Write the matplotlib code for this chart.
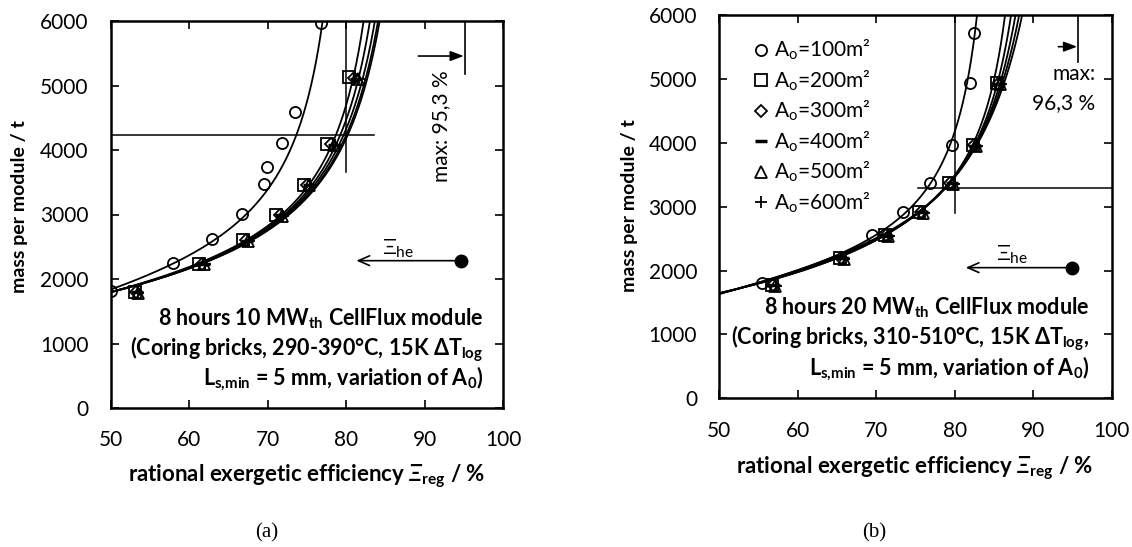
import numpy as np
import matplotlib
matplotlib.use("Agg")
import matplotlib.pyplot as plt

plt.rcParams['font.family'] = ['Lato', 'DejaVu Sans']
plt.rcParams['mathtext.fontset'] = 'custom'
plt.rcParams['mathtext.rm'] = 'Lato'
plt.rcParams['mathtext.it'] = 'Lato:italic'
plt.rcParams['mathtext.bf'] = 'Lato:bold'
plt.rcParams['mathtext.bfit'] = 'Lato:italic:bold'

# ================= panel (a): measured points =================
a_x100 = [50.0, 57.9, 62.9, 66.7, 69.5, 69.9, 71.8, 73.5, 76.8]
a_y100 = [1820, 2243, 2615, 3003, 3468, 3732, 4113, 4584, 5964]
a_x200 = [53.0, 61.2, 66.8, 71.1, 74.6, 77.6, 80.4]
a_y200 = [1800, 2240, 2605, 3000, 3465, 4100, 5125]
a_x300 = [53.2, 61.6, 67.2, 71.5, 75.0, 78.1, 81.0]
a_y300 = [1795, 2235, 2600, 2990, 3460, 4090, 5110]
a_x400 = [53.3, 61.8, 67.4, 71.7, 75.2, 78.4, 81.3]
a_y400 = [1795, 2230, 2595, 2985, 3455, 4085, 5105]
a_x500 = [53.4, 61.9, 67.5, 71.8, 75.3, 78.5, 81.5]
a_y500 = [1790, 2230, 2590, 2980, 3450, 4080, 5100]
a_x600 = [53.5, 62.0, 67.6, 71.9, 75.4, 78.6, 81.6]
a_y600 = [1790, 2225, 2590, 2980, 3450, 4080, 5100]

# panel (a): trend-line points
ta_x100 = [50.0, 57.9, 63.2, 67.9, 70.9, 72.7, 73.4, 75.6, 77.05]
ta_y100 = [1829, 2243, 2656, 2992, 3509, 4026, 4233, 5059, 5990]
ta_y = [1800, 2243, 2605, 2992, 3457, 4078, 5112, 5990]
ta_x200 = [50.0, 61.3, 67.1, 71.8, 75.2, 78.15, 80.9, 82.2]
ta_x300 = [50.0, 61.6, 67.4, 72.1, 75.6, 78.7, 81.6, 83.0]
ta_x400 = [50.0, 61.8, 67.6, 72.3, 75.9, 79.1, 82.2, 83.6]
ta_x500 = [50.0, 61.9, 67.8, 72.5, 76.2, 79.4, 82.6, 84.0]
ta_x600 = [50.0, 62.0, 67.9, 72.6, 76.4, 79.6, 82.8, 84.2]

# ================= panel (b): measured points =================
b_x100 = [55.4, 69.4, 73.45, 76.85, 79.7, 82.0, 82.45]
b_y100 = [1810, 2556, 2921, 3375, 3965, 4931, 5723]
b_x200 = [56.7, 65.4, 71.1, 75.5, 79.3, 82.3, 85.35]
b_y200 = [1774, 2201, 2556, 2921, 3375, 3965, 4931]
b_x300 = [56.85, 65.55, 71.25, 75.65, 79.45, 82.45, 85.5]
b_y300 = [1770, 2196, 2551, 2916, 3370, 3960, 4926]
b_x400 = [57.0, 65.7, 71.4, 75.8, 79.6, 82.6, 85.65]
b_y400 = [1766, 2192, 2547, 2912, 3366, 3956, 4922]
b_x500 = [57.15, 65.85, 71.55, 75.95, 79.75, 82.75, 85.8]
b_y500 = [1762, 2188, 2543, 2908, 3362, 3952, 4918]
b_x600 = [57.25, 65.95, 71.65, 76.05, 79.85, 82.85, 85.9]
b_y600 = [1760, 2186, 2541, 2906, 3360, 3950, 4916]

# panel (b): trend-line points
tb_x100 = [50.0, 55.4, 64.96, 69.6, 73.9, 76.9, 79.5, 81.6, 82.8]
tb_y100 = [1644, 1820, 2217, 2556, 2921, 3375, 3965, 4931, 6000]
tb_y = [1644, 1810, 2217, 2556, 2921, 3375, 3965, 4931, 6000]
tb_x200 = [50.0, 55.4, 65.0, 70.2, 75.7, 79.2, 82.2, 85.2, 86.3]
tb_x300 = [50.0, 55.5, 65.1, 70.3, 75.9, 79.4, 82.4, 85.4, 87.2]
tb_x400 = [50.0, 55.5, 65.2, 70.4, 76.0, 79.5, 82.5, 85.6, 87.8]
tb_x500 = [50.0, 55.6, 65.3, 70.5, 76.1, 79.6, 82.6, 85.7, 88.3]
tb_x600 = [50.0, 55.6, 65.3, 70.5, 76.2, 79.7, 82.7, 85.8, 88.7]

labels = ["100", "200", "300", "400", "500", "600"]
markers = ['o', 's', 'D', '_', '^', '+']
msizes = [8, 8, 6, 9, 8, 8]

xticks = [50, 60, 70, 80, 90, 100]
yticks = [0, 1000, 2000, 3000, 4000, 5000, 6000]

FS = 15      # regular text
FSB = 15.5   # bold annotation text
PX_X = 7.85      # pixels per x unit
PX_Y = 0.0645    # pixels per y unit


def trend(x, y):
    """weighted least-squares fit y = a + d*x + b/(c - x) through the trend-line points,
    weights approximating perpendicular distance on screen"""
    x = np.asarray(x, float)
    y = np.asarray(y, float)
    slope = np.gradient(y * PX_Y, x * PX_X)
    w = 1.0 / np.sqrt(1.0 + slope ** 2)
    best = None
    for c in np.linspace(x.max() + 0.2, x.max() + 40, 4000):
        A = np.column_stack([np.ones_like(x), x, 1.0 / (c - x)])
        coef, *_ = np.linalg.lstsq(A * w[:, None], y * w, rcond=None)
        sse = (((A @ coef - y) * w) ** 2).sum()
        if coef[2] > 0 and (best is None or sse < best[0]):
            best = (sse, c, coef)
    _, c, (a, d, b) = best
    xs = np.linspace(50, c - 0.02, 4000)
    ys = a + d * xs + b / (c - xs)
    m = ys <= 6400
    return xs[m], ys[m]


fig = plt.figure(figsize=(11.32, 5.47), dpi=100)
axA = fig.add_axes([111 / 1132, 1 - 408 / 547, 392 / 1132, 387 / 547])
axB = fig.add_axes([719.3 / 1132, 1 - 398.3 / 547, 392.4 / 1132, 383.3 / 547])

panels = [
    (axA,
     [a_x100, a_x200, a_x300, a_x400, a_x500, a_x600],
     [a_y100, a_y200, a_y300, a_y400, a_y500, a_y600],
     [ta_x100, ta_x200, ta_x300, ta_x400, ta_x500, ta_x600],
     [ta_y100, ta_y, ta_y, ta_y, ta_y, ta_y]),
    (axB,
     [b_x100, b_x200, b_x300, b_x400, b_x500, b_x600],
     [b_y100, b_y200, b_y300, b_y400, b_y500, b_y600],
     [tb_x100, tb_x200, tb_x300, tb_x400, tb_x500, tb_x600],
     [tb_y100, tb_y, tb_y, tb_y, tb_y, tb_y]),
]

for ax, xs_all, ys_all, txs, tys in panels:
    for i in range(6):
        cx, cy = trend(txs[i], tys[i])
        ax.plot(cx, cy, color='black', lw=1.3, zorder=2)
        ax.plot(xs_all[i], ys_all[i], linestyle='none', marker=markers[i], ms=msizes[i],
                mfc='none', mec='black', mew=1.3 if markers[i] != '_' else 2.5,
                color='black', zorder=3,
                label=r"A$_{\mathregular{o}}$=" + labels[i] + "m²")
    ax.set_xlim(50, 100)
    ax.set_ylim(0, 6000)
    ax.set_xticks(xticks)
    ax.set_yticks(yticks)
    ax.tick_params(direction='in', top=True, right=True, length=6, width=1.2,
                   labelsize=FS)
    ax.tick_params(axis='y', pad=16)
    ax.tick_params(axis='x', pad=16)
    for s in ax.spines.values():
        s.set_linewidth(1.8)

# ---- panel (a) annotations ----
axA.plot([80, 80], [3663, 6000], color='black', lw=1.1)
axA.plot([50, 83.6], [4233, 4233], color='black', lw=1.1)
axA.annotate('', xy=(95.0, 5457), xytext=(89.2, 5457),
             arrowprops=dict(arrowstyle='-|>,head_length=0.8,head_width=0.3',
                             color='black', lw=1.2, shrinkA=0, shrinkB=0))
axA.plot([95.2, 95.2], [5178, 6000], color='black', lw=1.2)
axA.text(92.1, 4370, "max: 95,3 %", rotation=90, ha='center', va='center', fontsize=FS)
axA.plot([94.7], [2284], 'o', color='black', ms=9)
axA.annotate('', xy=(81.3, 2284), xytext=(94.7, 2284),
             arrowprops=dict(arrowstyle='->,head_length=0.8,head_width=0.35',
                             color='black', lw=1.2, shrinkA=0, shrinkB=0))
axA.text(84.6, 2470, r"Ξ$_{\mathregular{he}}$", ha='left', va='center', fontsize=16)
axA.text(97.5, 1271, r"8 hours 10 MW$_{\mathbf{th}}$ CellFlux module", ha='right',
         va='baseline', fontsize=FSB, fontweight='bold')
axA.text(97.5, 806, r"(Coring bricks, 290-390°C, 15K ΔT$_{\mathbf{log}}$", ha='right',
         va='baseline', fontsize=FSB, fontweight='bold')
axA.text(97.5, 357, r"L$_{\mathbf{s{,}min}}$ = 5 mm, variation of A$_{\mathbf{0}}$)",
         ha='right', va='baseline', fontsize=FSB, fontweight='bold')

# ---- panel (b) annotations ----
axB.plot([80, 80], [2896, 6000], color='black', lw=1.1)
axB.plot([75.3, 100], [3297, 3297], color='black', lw=1.1)
axB.annotate('', xy=(95.6, 5504), xytext=(93.2, 5504),
             arrowprops=dict(arrowstyle='-|>,head_length=0.8,head_width=0.3',
                             color='black', lw=1.2, shrinkA=0, shrinkB=0))
axB.plot([95.7, 95.7], [5270, 6000], color='black', lw=1.2)
axB.text(97.9, 5077, "max:", ha='right', va='center', fontsize=FS)
axB.text(97.95, 4618, "96,3 %", ha='right', va='center', fontsize=FS)
axB.plot([95.0], [2045], 'o', color='black', ms=9)
axB.annotate('', xy=(81.4, 2045), xytext=(95.0, 2045),
             arrowprops=dict(arrowstyle='->,head_length=0.8,head_width=0.35',
                             color='black', lw=1.2, shrinkA=0, shrinkB=0))
axB.text(85.3, 2250, r"Ξ$_{\mathregular{he}}$", ha='left', va='center', fontsize=16)
axB.text(97.1, 1304, r"8 hours 20 MW$_{\mathbf{th}}$ CellFlux module", ha='right',
         va='baseline', fontsize=FSB, fontweight='bold')
axB.text(97.1, 834, r"(Coring bricks, 310-510°C, 15K ΔT$_{\mathbf{log}}$,", ha='right',
         va='baseline', fontsize=FSB, fontweight='bold')
axB.text(97.1, 365, r"L$_{\mathbf{s{,}min}}$ = 5 mm, variation of A$_{\mathbf{0}}$)",
         ha='right', va='baseline', fontsize=FSB, fontweight='bold')

axB.legend(loc='upper left', bbox_to_anchor=(0.09, 0.94), frameon=False, fontsize=FS,
           handlelength=0.6, handletextpad=0.35, labelspacing=0.3, borderaxespad=0,
           borderpad=0)

# axis labels
fig.text(20 / 1132, 1 - 207 / 547, "mass per module / t", rotation=90, ha='center',
         va='center', fontsize=14, fontweight='bold')
fig.text(629.6 / 1132, 1 - 206 / 547, "mass per module / t", rotation=90, ha='center',
         va='center', fontsize=14, fontweight='bold')
fig.text(307 / 1132, 1 - 476.7 / 547,
         r"rational exergetic efficiency $\mathbfit{Ξ}_{\mathbf{reg}}$ / %",
         ha='center', va='center', fontsize=16, fontweight='bold')
fig.text(915 / 1132, 1 - 468.3 / 547,
         r"rational exergetic efficiency $\mathbfit{Ξ}_{\mathbf{reg}}$ / %",
         ha='center', va='center', fontsize=16, fontweight='bold')

fig.text(267 / 1132, 1 - 533 / 547, "(a)", ha='center', va='center', fontsize=15,
         family='Liberation Serif')
fig.text(874 / 1132, 1 - 533 / 547, "(b)", ha='center', va='center', fontsize=15,
         family='Liberation Serif')

fig.savefig("out.png", dpi=100)
